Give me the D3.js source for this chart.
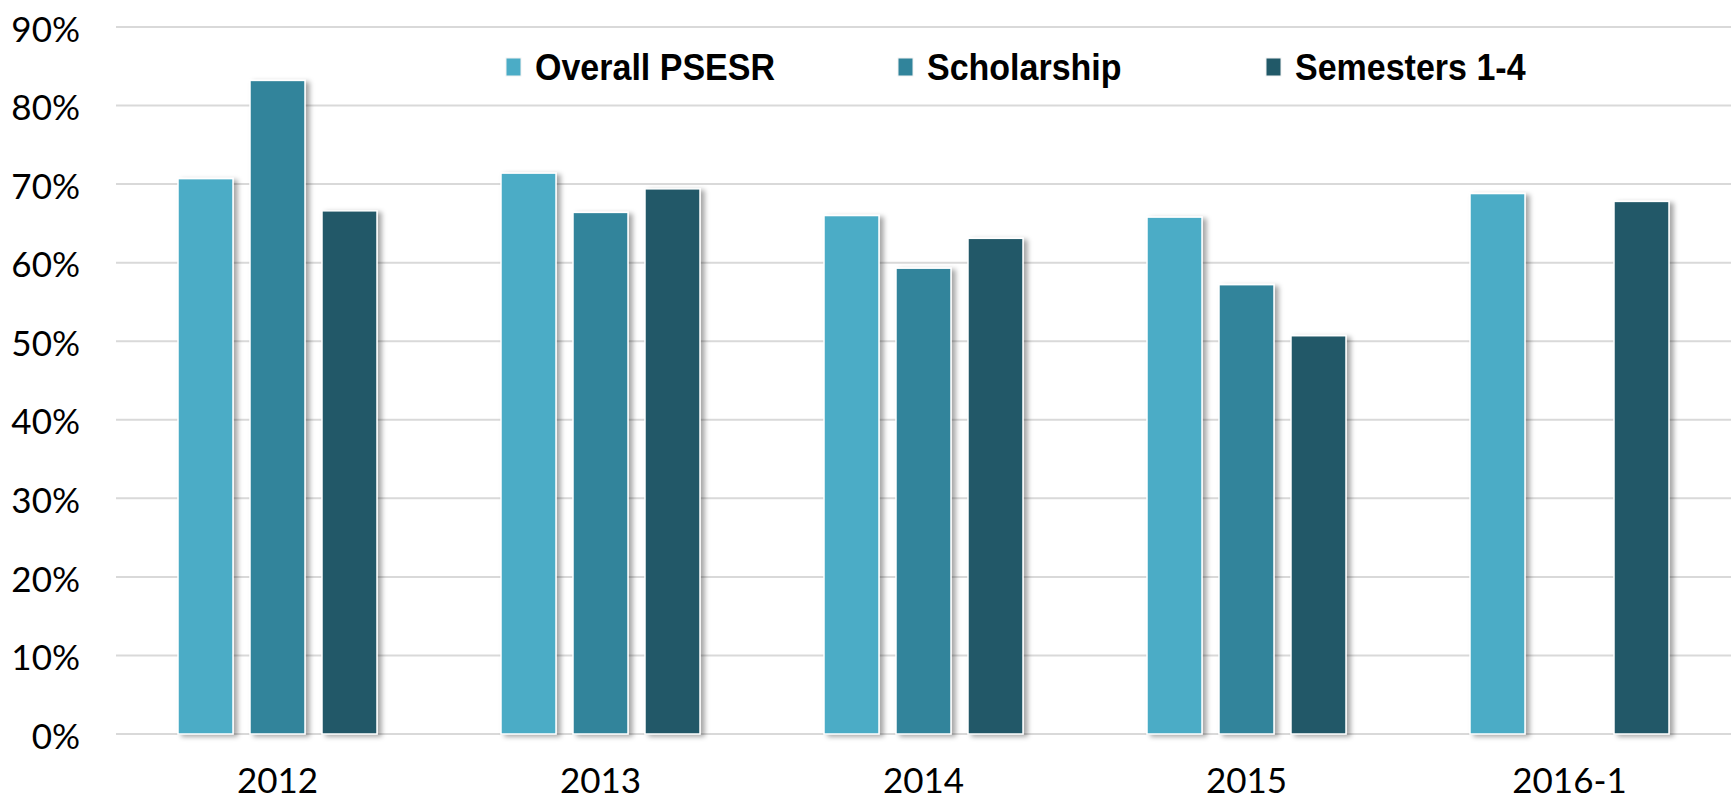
<!DOCTYPE html>
<html>
<head>
<meta charset="utf-8">
<script src="https://cdn.jsdelivr.net/npm/d3@7"></script>
<style>
  body { margin: 0; background: #fff; }
  svg { display: block; }
</style>
</head>
<body>
<div id="chart"></div>
<script>
// data
var years = ["2012", "2013", "2014", "2015", "2016-1"];
var seriesNames = ["Overall PSESR", "Scholarship", "Semesters 1-4"];
var overall = [0.707, 0.714, 0.660, 0.658, 0.688];
var scholarship = [0.832, 0.664, 0.593, 0.572, null];
var semesters = [0.666, 0.694, 0.631, 0.507, 0.678];
var yTicks = [0, 0.1, 0.2, 0.3, 0.4, 0.5, 0.6, 0.7, 0.8, 0.9];
var colors = ["#4BACC6", "#31849B", "#215968"];

var width = 1731, height = 799;

var svg = d3.select("#chart")
  .append("svg")
    .attr("width", width)
    .attr("height", height);

// drop shadow like the excel bars
var defs = svg.append("defs");
var filter = defs.append("filter")
    .attr("id", "shadow")
    .attr("x", "-20%").attr("y", "-10%")
    .attr("width", "150%").attr("height", "130%");
filter.append("feDropShadow")
    .attr("dx", 4).attr("dy", 2)
    .attr("stdDeviation", 2.5)
    .attr("flood-color", "#000")
    .attr("flood-opacity", 0.35);

// scales
var x0 = d3.scaleBand()
  .domain(years)
  .range([116, 1731])
  .padding(0);

var x1 = d3.scaleBand()
  .domain(seriesNames)
  .range([62, 261])
  .paddingInner(0.236);

var y = d3.scaleLinear()
  .domain([0, 0.9])
  .range([734, 27]);

// gridlines
svg.append("g")
  .selectAll("line")
  .data(yTicks)
  .enter()
  .append("line")
    .attr("x1", 116)
    .attr("x2", 1731)
    .attr("y1", function(d) { return y(d); })
    .attr("y2", function(d) { return y(d); })
    .attr("stroke", "#D9D9D9")
    .attr("stroke-width", 2);

// y axis labels
var yAxis = d3.axisLeft(y)
  .tickValues(yTicks)
  .tickFormat(d3.format(".0%"))
  .tickSize(0)
  .tickPadding(0);
var yg = svg.append("g")
  .attr("transform", "translate(80,3)")
  .call(yAxis);
yg.select(".domain").remove();
yg.selectAll("text")
  .style("font-family", "Lato, 'Open Sans', sans-serif")
  .style("font-size", "35px")
  .attr("fill", "#000");

// x axis labels
var xAxis = d3.axisBottom(x0).tickSize(0).tickPadding(0);
var xg = svg.append("g")
  .attr("transform", "translate(0,768)")
  .call(xAxis);
xg.select(".domain").remove();
xg.selectAll("text")
  .style("font-family", "Lato, 'Open Sans', sans-serif")
  .style("font-size", "35px")
  .attr("fill", "#000");

// build rows for grouped bars
var allSeries = [overall, scholarship, semesters];
var rows = years.map(function(yr, i) {
  return {
    year: yr,
    values: seriesNames.map(function(s, j) {
      return { name: s, value: allSeries[j][i], color: colors[j] };
    })
  };
});

var groups = svg.append("g")
  .selectAll("g")
  .data(rows)
  .enter()
  .append("g")
    .attr("transform", function(d) { return "translate(" + x0(d.year) + ",0)"; });

groups.selectAll("rect")
  .data(function(d) { return d.values.filter(function(v) { return v.value != null; }); })
  .enter()
  .append("rect")
    .attr("x", function(d) { return x1(d.name); })
    .attr("y", function(d) { return y(d.value); })
    .attr("width", x1.bandwidth())
    .attr("height", function(d) { return y(0) - y(d.value); })
    .attr("fill", function(d) { return d.color; })
    .attr("stroke", "#fff")
    .attr("stroke-width", 1.5)
    .attr("filter", "url(#shadow)");

// legend
var legendX = [506, 898, 1266];
var legend = svg.append("g")
  .selectAll("g")
  .data(seriesNames)
  .enter()
  .append("g")
    .attr("transform", function(d, i) { return "translate(" + legendX[i] + ",58)"; });

legend.append("rect")
  .attr("width", 15)
  .attr("height", 18)
  .attr("fill", function(d, i) { return colors[i]; })
  .attr("stroke", "#f2f2f2")
  .attr("stroke-width", 1);

legend.append("text")
  .attr("transform", "translate(29,9) scale(1,1.1)")
  .attr("dy", "0.36em")
  .text(function(d) { return d; })
  .style("font-family", "'Liberation Sans', Arial, sans-serif")
  .style("font-weight", "bold")
  .style("font-size", "34px")
  .attr("fill", "#000");
</script>
</body>
</html>
